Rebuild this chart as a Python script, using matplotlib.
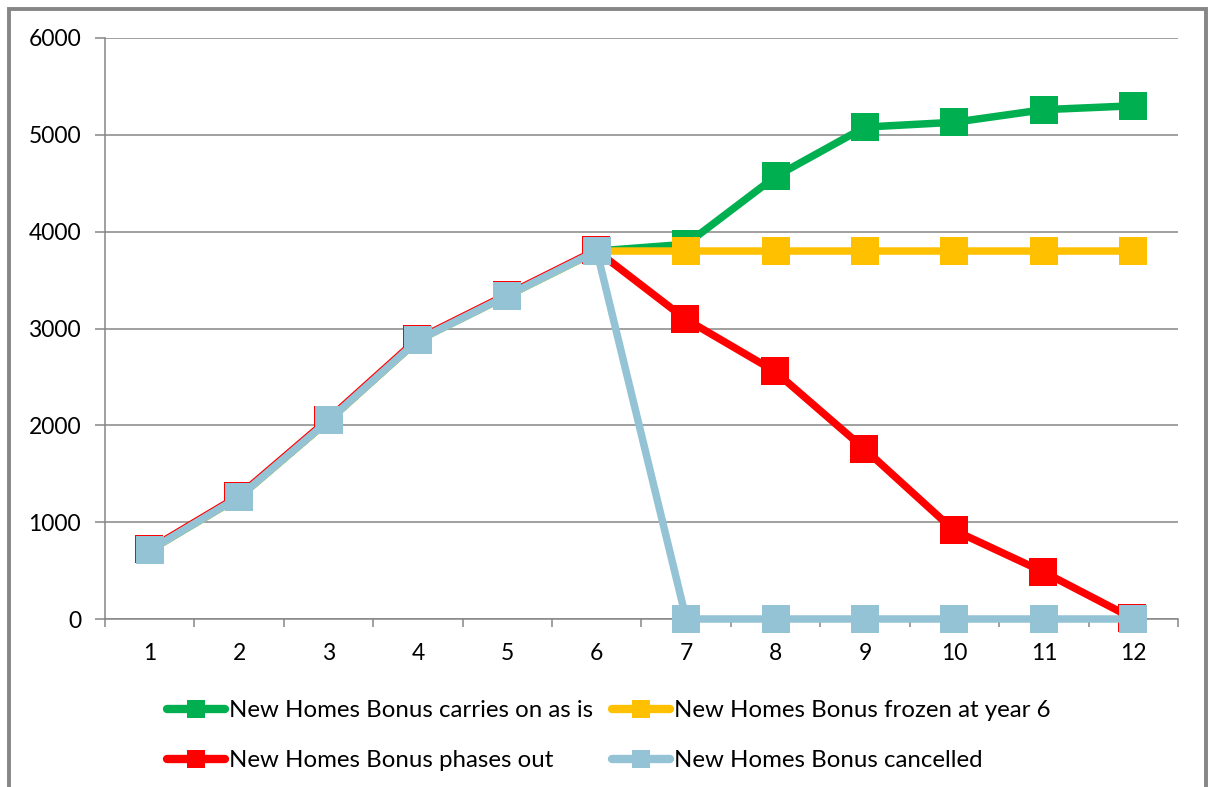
import matplotlib
matplotlib.use("Agg")
import matplotlib.pyplot as plt
from matplotlib.patches import Rectangle
from matplotlib.lines import Line2D
from matplotlib.transforms import offset_copy

years = [1, 2, 3, 4, 5, 6, 7, 8, 9, 10, 11, 12]
carries_on = [710, 1260, 2050, 2880, 3340, 3800, 3870, 4570, 5080, 5130, 5260, 5300]
frozen = [710, 1260, 2050, 2880, 3340, 3800, 3800, 3800, 3800, 3800, 3800, 3800]
phases_out = [710, 1260, 2050, 2880, 3340, 3800, 3090, 2550, 1750, 910, 480, 0]
cancelled = [710, 1260, 2050, 2880, 3340, 3800, 0, 0, 0, 0, 0, 0]
labels = [
    "New Homes Bonus carries on as is",
    "New Homes Bonus frozen at year 6",
    "New Homes Bonus phases out",
    "New Homes Bonus cancelled",
]
colors = ["#00B050", "#FFC000", "#FF0000", "#93C3D5"]
y_ticks = [0, 1000, 2000, 3000, 4000, 5000, 6000]

plt.rcParams["font.family"] = ["Lato", "DejaVu Sans"]

W, H = 1212, 787
fig = plt.figure(figsize=(W / 100, H / 100), dpi=100)
fig.patch.set_facecolor("white")
ax = fig.add_axes([105 / W, 1 - 619 / H, (1178 - 105) / W, (619 - 38) / H])

grid_c = "#868686"
series = [carries_on, frozen, phases_out, cancelled]
for i, vals in enumerate(series):
    tr = ax.transData
    if i == 2:
        # the red series sits a hair up-left of the others
        tr = offset_copy(ax.transData, fig=fig, x=-0.8, y=0.8, units="dots")
    ax.plot(years, vals, color=colors[i], lw=5.4, marker="s", ms=19.5,
            markeredgewidth=0, solid_joinstyle="miter", zorder=3 + i, transform=tr,
            clip_on=False)

ax.set_xlim(0.5, 12.5)
ax.set_ylim(0, 6000)
ax.set_yticks(y_ticks)
ax.set_yticklabels([str(v) for v in y_ticks])
ax.set_xticks(years)
ax.set_xticklabels([str(v) for v in years])
ax.set_xticks([x + 0.5 for x in range(0, 13)], minor=True)
ax.tick_params(axis="x", which="major", length=0, pad=17.5, labelsize=16.5, colors="black")
ax.tick_params(axis="x", which="minor", length=6, width=1.1, color=grid_c, direction="out")
ax.tick_params(axis="y", which="major", length=7.2, width=1.1, color=grid_c, pad=10,
               labelsize=16.5, labelcolor="black")
ax.yaxis.grid(True, color=grid_c, lw=1.1)
ax.set_axisbelow(True)
for s in ["top", "right"]:
    ax.spines[s].set_visible(False)
for s in ["left", "bottom"]:
    ax.spines[s].set_color(grid_c)
    ax.spines[s].set_linewidth(1.1)


def handle(c):
    return Line2D([], [], color=c, lw=6, marker="s", ms=13, markeredgewidth=0,
                  solid_capstyle="round")


legend_kw = dict(loc="center left", frameon=False, fontsize=17.3, handlelength=2.42,
                 handletextpad=0.15, labelspacing=1.2, borderaxespad=0, borderpad=0)
leg1 = fig.legend([handle(colors[0]), handle(colors[2])], [labels[0], labels[2]],
                  bbox_to_anchor=(167 / W, 1 - 735.5 / H), **legend_kw)
leg2 = fig.legend([handle(colors[1]), handle(colors[3])], [labels[1], labels[3]],
                  bbox_to_anchor=(612 / W, 1 - 735.5 / H), **legend_kw)

fig.add_artist(Rectangle((9 / W, -0.05), (1206 - 9) / W, 1.05 - 9 / H,
                         transform=fig.transFigure, fill=False, edgecolor=grid_c, lw=2.8))

fig.savefig("out.png", dpi=100)
